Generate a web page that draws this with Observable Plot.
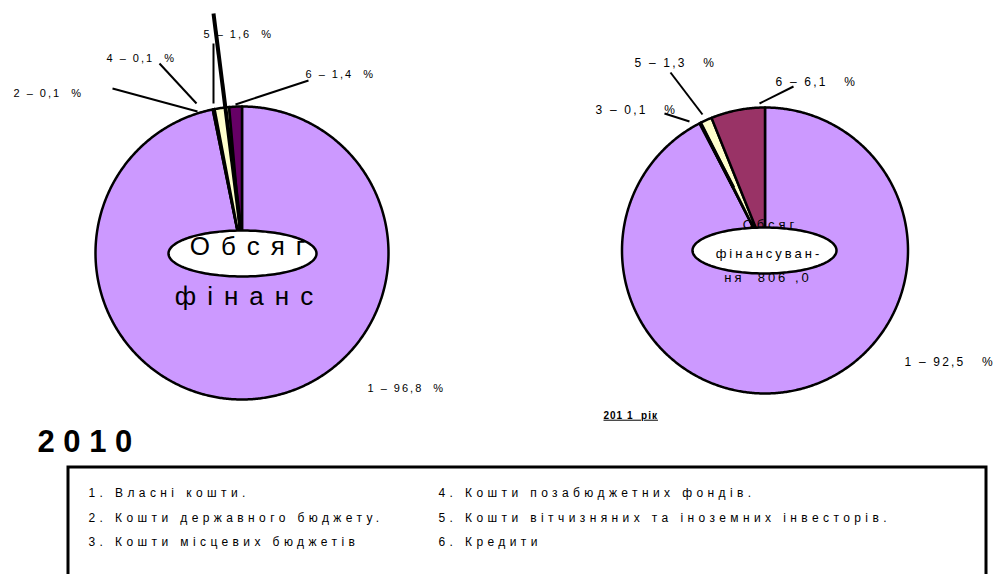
<!DOCTYPE html>
<html><head><meta charset="utf-8">
<script src="https://cdn.jsdelivr.net/npm/d3@7"></script>
<script src="https://cdn.jsdelivr.net/npm/@observablehq/plot@0.6"></script>
<style>html,body{margin:0;padding:0;overflow:hidden;background:#fff}svg{display:block}</style>
</head><body><div id="chart"></div><script>
// ---------- data ----------
const sliceIds = [1, 2, 3, 4, 5, 6];
const legendItems = [
  "1. Власні кошти.",
  "2. Кошти державного бюджету.",
  "3. Кошти місцевих бюджетів",
  "4. Кошти позабюджетних фондів.",
  "5. Кошти вітчизняних та іноземних інвесторів.",
  "6. Кредити"
];
const values2010 = [96.8, 0.1, 0, 0.1, 1.6, 1.4];
const values2011 = [92.5, 0, 0.1, 0, 1.3, 6.1];
const colors2010 = ["#CC99FF", "#CCFFFF", "#FF8080", "#0066CC", "#FFFFCC", "#660066"];
const colors2011 = ["#CC99FF", "#CCFFFF", "#FF8080", "#0066CC", "#FFFFCC", "#993366"];
const yearTitle = "2 0 1 0";
const yearCaption = "201 1  рік";
const centerText2010 = ["Обсяг", "фінанс"];
const centerText2011 = ["Обсяг", "фінансуван-", "ня  806 ,0"];

// ---------- layout (pixel space) ----------
const pieA = {cx: 241.5, cy: 252.5, r: 146.5};
const pieB = {cx: 764.5, cy: 250, r: 143};
const labelPosA = {1: [367, 388], 2: [13, 93], 4: [106, 58], 5: [203, 34], 6: [305, 74]};
const labelPosB = {1: [904, 362], 3: [595, 110], 5: [634, 63], 6: [775, 82]};
const leadersA = {2: [[112, 88], [197, 111]], 4: [[159, 63], [196, 103]], 5: [[213, 43], [213, 103]], 6: [[308, 80], [235, 104]]};
const leadersB = {3: [[664, 113], [689, 121]], 5: [[670, 72], [702, 114]], 6: [[793, 86], [759, 103]]};
const thickA = [[213, 13], [240, 227]];
const thickB = [[699, 122], [733, 187]];

const fmt = v => v.toFixed(1).replace(".", ",");

function slices(values, colors, pie) {
  const out = [];
  let acc = 0;
  values.forEach((v, i) => {
    const a0 = acc / 100 * 2 * Math.PI;
    acc += v;
    const a1 = acc / 100 * 2 * Math.PI;
    if (v <= 0) return;
    const pts = [{x: pie.cx, y: pie.cy}];
    const n = Math.max(2, Math.ceil((a1 - a0) / (Math.PI / 360)));
    for (let k = 0; k <= n; k++) {
      const a = a0 + (a1 - a0) * k / n;
      pts.push({x: pie.cx + pie.r * Math.sin(a), y: pie.cy - pie.r * Math.cos(a)});
    }
    out.push({id: sliceIds[i], color: colors[i], pts});
  });
  return out;
}
function ellipse(cx, cy, rx, ry) {
  const pts = [];
  for (let k = 0; k < 180; k++) {
    const a = k / 180 * 2 * Math.PI;
    pts.push({x: cx + rx * Math.cos(a), y: cy + ry * Math.sin(a)});
  }
  return pts;
}
function pieLabels(values, pos, spaces) {
  return sliceIds.filter(id => pos[id]).map(id => ({
    x: pos[id][0], y: pos[id][1],
    t: `${id} – ${fmt(values[id - 1])}${" ".repeat(spaces)}%`
  }));
}
function leaderSegs(obj) {
  return Object.entries(obj).map(([id, p]) => ({id, x1: p[0][0], y1: p[0][1], x2: p[1][0], y2: p[1][1]}));
}

const FONT = "Liberation Sans, Arial, sans-serif";
const marks = [];
for (const s of slices(values2010, colors2010, pieA))
  marks.push(Plot.line(s.pts, {x: "x", y: "y", fill: s.color, stroke: "black", strokeWidth: 2.5, curve: "linear-closed"}));
for (const s of slices(values2011, colors2011, pieB))
  marks.push(Plot.line(s.pts, {x: "x", y: "y", fill: s.color, stroke: "black", strokeWidth: 2.5, curve: "linear-closed"}));

// leader lines
marks.push(Plot.link(leaderSegs(leadersA).concat(leaderSegs(leadersB)), {x1: "x1", y1: "y1", x2: "x2", y2: "y2", stroke: "black", strokeWidth: 2}));
marks.push(Plot.link([{x1: thickA[0][0], y1: thickA[0][1], x2: thickA[1][0], y2: thickA[1][1]}], {x1: "x1", y1: "y1", x2: "x2", y2: "y2", stroke: "black", strokeWidth: 4}));
marks.push(Plot.link([{x1: thickB[0][0], y1: thickB[0][1], x2: thickB[1][0], y2: thickB[1][1]}], {x1: "x1", y1: "y1", x2: "x2", y2: "y2", stroke: "black", strokeWidth: 3.5}));

// center texts & ellipses
marks.push(Plot.text([{x: 768 + 2, y: 224, t: centerText2011[0]}], {x: "x", y: "y", text: "t", fontSize: 13, fontFamily: FONT, fill: "black", ariaDescription: "c2011a"}));
marks.push(Plot.line(ellipse(242, 253, 74, 23), {x: "x", y: "y", fill: "white", stroke: "black", strokeWidth: 2.5, curve: "linear-closed"}));
marks.push(Plot.line(ellipse(764, 250, 72, 23), {x: "x", y: "y", fill: "white", stroke: "black", strokeWidth: 2.5, curve: "linear-closed"}));
marks.push(Plot.text([{x: 247 + 5.5, y: 246, t: centerText2010[0]}, {x: 244 + 5, y: 296, t: centerText2010[1]}], {x: "x", y: "y", text: "t", fontSize: 26, fontFamily: FONT, fill: "black", ariaDescription: "c2010"}));
marks.push(Plot.text([{x: 767 + 1.5, y: 253, t: centerText2011[1]}, {x: 766 + 1.5, y: 277, t: centerText2011[2]}], {x: "x", y: "y", text: "t", fontSize: 13, fontFamily: FONT, fill: "black", ariaDescription: "c2011b"}));

// slice labels
marks.push(Plot.text(pieLabels(values2010, labelPosA, 2), {x: "x", y: "y", text: "t", textAnchor: "start", fontSize: 11, fontFamily: FONT, fill: "black", ariaDescription: "labA"}));
marks.push(Plot.text(pieLabels(values2011, labelPosB, 3), {x: "x", y: "y", text: "t", textAnchor: "start", fontSize: 12, fontFamily: FONT, fill: "black", ariaDescription: "labB"}));

// year title and caption
marks.push(Plot.text([{x: 37, y: 442, t: yearTitle}], {x: "x", y: "y", text: "t", textAnchor: "start", fontSize: 31, fontWeight: "bold", fontFamily: FONT, fill: "black", ariaDescription: "year"}));
marks.push(Plot.text([{x: 603, y: 415, t: yearCaption}], {x: "x", y: "y", text: "t", textAnchor: "start", fontSize: 10, fontWeight: "bold", fontFamily: FONT, fill: "black", ariaDescription: "caption"}));

// legend box
marks.push(Plot.rect([{x1: 68, x2: 986, y1: 467, y2: 620}], {x1: "x1", x2: "x2", y1: "y1", y2: "y2", fill: "white", stroke: "black", strokeWidth: 3}));
const legendRows = legendItems.map((t, i) => ({t, x: i < 3 ? 88 : 438, y: 493 + (i % 3) * 24.5}));
marks.push(Plot.text(legendRows, {x: "x", y: "y", text: "t", textAnchor: "start", fontSize: 12, fontFamily: FONT, fill: "black", ariaDescription: "legend"}));

const svg = Plot.plot({
  width: 999, height: 574, margin: 0,
  x: {domain: [0, 999], range: [0, 999], axis: null},
  y: {domain: [0, 574], range: [0, 574], axis: null},
  style: {background: "white", fontFamily: FONT, overflow: "hidden"},
  marks
});
const spacing = {c2010: 11, c2011a: 4, c2011b: 3, labA: 2, labB: 2.2, caption: 1, legend: 4.4};
for (const [k, v] of Object.entries(spacing))
  svg.querySelectorAll(`g[aria-description="${k}"] text`).forEach(t => t.style.letterSpacing = v + "px");
svg.querySelectorAll(`g[aria-description="caption"] text`).forEach(t => t.style.textDecoration = "underline");
document.getElementById("chart").appendChild(svg);
</script></body></html>
